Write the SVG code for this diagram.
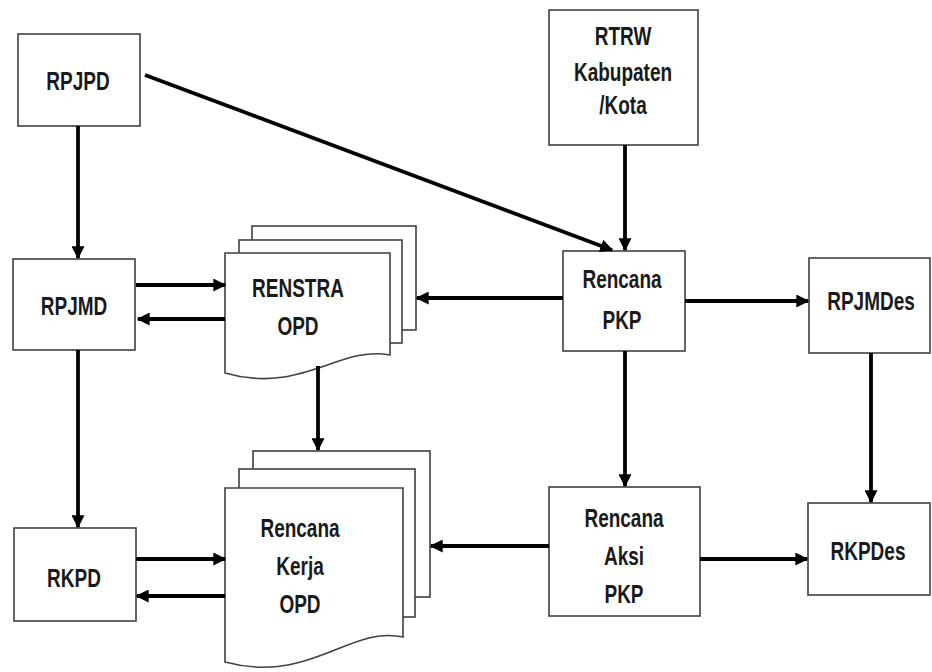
<svg xmlns="http://www.w3.org/2000/svg" width="932" height="672" viewBox="0 0 932 672">
<defs>
<marker id="ah" viewBox="0 0 10 10" refX="9" refY="5" markerWidth="13" markerHeight="13" markerUnits="userSpaceOnUse" orient="auto">
<path d="M0,0 L10,5 L0,10 Z" fill="#000"/>
</marker>
</defs>
<style>
.box{fill:#fff;stroke:#404040;stroke-width:1.6}
.pg{fill:#fff;stroke:#404040;stroke-width:1.6}
.c{fill:none;stroke:#000;stroke-width:3.8;marker-end:url(#ah)}
.t{font-family:"Liberation Sans",Arial,sans-serif;font-weight:bold;font-size:25px;fill:#1a1a1a;text-anchor:middle}
</style>
<rect width="932" height="672" fill="#fff"/>

<g id="RPJPD">
<rect class="box" x="18" y="34" width="122" height="92"/>
<text class="t" transform="translate(78,90) scale(0.76,1)">RPJPD</text>
</g>

<g id="RTRW">
<rect class="box" x="549" y="10" width="149" height="135"/>
<text class="t" transform="translate(623,45) scale(0.76,1)">RTRW</text>
<text class="t" transform="translate(623,81) scale(0.76,1)">Kabupaten</text>
<text class="t" transform="translate(623,114) scale(0.76,1)">/Kota</text>
</g>

<g id="RPJMD">
<rect class="box" x="13" y="259" width="122" height="91"/>
<text class="t" transform="translate(74,315) scale(0.76,1)">RPJMD</text>
</g>

<g id="RENSTRA">
<rect class="pg" x="252" y="226" width="164" height="104"/>
<rect class="pg" x="239" y="240" width="163" height="103"/>
<path class="pg" d="M225,253 H390 V355 C340,345 300,395 225,373 Z"/>
<text class="t" transform="translate(298,297) scale(0.76,1)">RENSTRA</text>
<text class="t" transform="translate(298,335) scale(0.76,1)">OPD</text>
</g>

<g id="RencanaPKP">
<rect class="box" x="563" y="251" width="122" height="100"/>
<text class="t" transform="translate(622,288) scale(0.76,1)">Rencana</text>
<text class="t" transform="translate(622,329) scale(0.76,1)">PKP</text>
</g>

<g id="RPJMDes">
<rect class="box" x="809" y="258" width="121" height="95"/>
<text class="t" transform="translate(871,310) scale(0.76,1)">RPJMDes</text>
</g>

<g id="RKPD">
<rect class="box" x="14" y="528" width="122" height="93"/>
<text class="t" transform="translate(74,587) scale(0.76,1)">RKPD</text>
</g>

<g id="RencanaKerjaOPD">
<rect class="pg" x="253" y="451" width="177" height="146"/>
<rect class="pg" x="239" y="469" width="176" height="148"/>
<path class="pg" d="M225,488 H403 V637 C350,625 310,685 225,662 Z"/>
<text class="t" transform="translate(300,537) scale(0.76,1)">Rencana</text>
<text class="t" transform="translate(300,575) scale(0.76,1)">Kerja</text>
<text class="t" transform="translate(300,613) scale(0.76,1)">OPD</text>
</g>

<g id="RencanaAksiPKP">
<rect class="box" x="549" y="487" width="151" height="129"/>
<text class="t" transform="translate(624,527) scale(0.76,1)">Rencana</text>
<text class="t" transform="translate(624,565) scale(0.76,1)">Aksi</text>
<text class="t" transform="translate(624,603) scale(0.76,1)">PKP</text>
</g>

<g id="RKPDes">
<rect class="box" x="808" y="503" width="122" height="92"/>
<text class="t" transform="translate(868,560) scale(0.76,1)">RKPDes</text>
</g>

<g id="connectors">
<line class="c" x1="78" y1="126" x2="78" y2="258"/>
<line class="c" x1="145" y1="75" x2="612" y2="250"/>
<line class="c" x1="625" y1="145" x2="625" y2="250"/>
<line class="c" x1="136" y1="285" x2="225" y2="285"/>
<line class="c" x1="225" y1="319" x2="138" y2="319"/>
<line class="c" x1="563" y1="298" x2="417" y2="298"/>
<line class="c" x1="685" y1="301" x2="808" y2="301"/>
<line class="c" x1="78" y1="350" x2="78" y2="527"/>
<line class="c" x1="318" y1="366" x2="318" y2="450"/>
<line class="c" x1="625" y1="351" x2="625" y2="486"/>
<line class="c" x1="871" y1="353" x2="871" y2="502"/>
<line class="c" x1="136" y1="559" x2="225" y2="559"/>
<line class="c" x1="225" y1="596" x2="137" y2="596"/>
<line class="c" x1="549" y1="546" x2="431" y2="546"/>
<line class="c" x1="700" y1="559" x2="807" y2="559"/>
</g>
</svg>
